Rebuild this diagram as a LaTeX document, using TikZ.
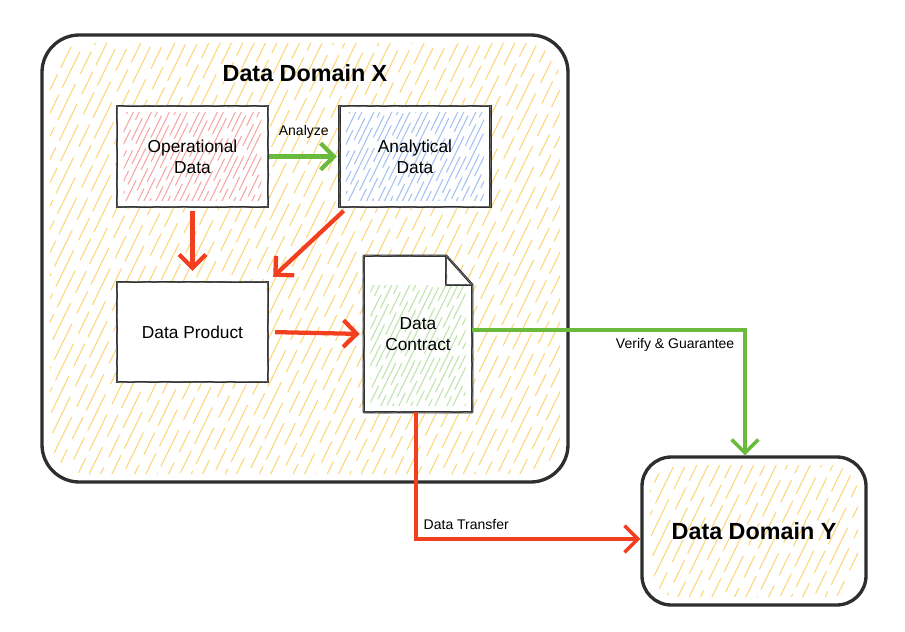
\documentclass[tikz,border=0pt]{standalone}
\usepackage{fontspec}
\setmainfont{Liberation Sans}
\usetikzlibrary{arrows.meta,decorations.pathmorphing}
\definecolor{hatchY}{HTML}{F9D77A}
\definecolor{hatchR}{HTML}{F6A8A8}
\definecolor{hatchB}{HTML}{A6C2F2}
\definecolor{hatchG}{HTML}{BFE3AE}
\definecolor{arrR}{HTML}{F23F1F}
\definecolor{arrG}{HTML}{6CBA3C}
\definecolor{inkc}{HTML}{2E2E2E}
\begin{document}
\begin{tikzpicture}[x=0.75pt,y=-0.75pt,
  hatchfill/.style n args={3}{path picture={
    \begin{scope}
      \clip ([shift={(#2,#2)}]path picture bounding box.south west) rectangle ([shift={(-#2,-#2)}]path picture bounding box.north east);
      \foreach \k in {0,...,95} {
        \pgfmathsetmacro\ph{mod(\k*17,53)}
        \draw[draw=#1, line width=0.8pt, line cap=round, dash pattern=on 30pt off 9pt on 18pt off 6pt, dash phase=\ph pt]
          ([xshift=\k*#3-180pt]path picture bounding box.south west) -- ++(64:420pt);
      }
    \end{scope}}},
  sketch/.style={draw=inkc, line width=1.8pt,
    postaction={draw=inkc!70, line width=0.6pt, decorate, decoration={random steps, segment length=5pt, amplitude=0.5pt}}},
  dombox/.style={draw=inkc, line width=2.5pt},
  box/.style={sketch, fill=white, minimum width=113.25pt, minimum height=75.75pt, inner sep=0pt,
    font=\fontsize{13}{16}\selectfont, align=center, text=black},
  lbl/.style={font=\fontsize{10.5}{12}\selectfont, text=black, inner sep=0pt},
  redarr/.style={draw=arrR, line width=3.2pt, -{Straight Barb[length=10pt,width=20pt]}},
  grnarr/.style={draw=arrG, line width=3.2pt, -{Straight Barb[length=10pt,width=20pt]}},
]
\useasboundingbox (0,0) rectangle (905,631);
\pgfmathsetseed{7}

% Domain X
\node[dombox, minimum width=394.5pt, minimum height=335.25pt, rounded corners=28pt,
      hatchfill={hatchY}{6pt}{8.5pt}] (domX) at (305,258.5) {};
\node[font=\fontsize{17.5}{20}\selectfont\bfseries, text=black] (titleX) at (305,73) {Data Domain X};

% Domain Y
\node[dombox, minimum width=168pt, minimum height=111pt, rounded corners=22pt,
      hatchfill={hatchY}{6pt}{8.5pt}, font=\fontsize{17.5}{20}\selectfont\bfseries, text=black] (domY) at (754,531) {\raisebox{-5pt}{Data Domain Y}};

% Inner boxes
\node[box, hatchfill={hatchR}{5pt}{4.5pt}] (op) at (192.5,156.5) {Operational\\Data};
\node[box, hatchfill={hatchB}{5pt}{4.5pt}] (an) at (415,156.5) {Analytical\\Data};
\node[box, minimum height=75pt] (prod) at (192.5,332) {Data Product};

% Data Contract (document with folded corner)
\path (418,334) node[minimum width=81pt, minimum height=117pt, inner sep=0pt] (contract) {};
\fill[white] (contract.south west) -- (contract.north west) -- ([xshift=-19.5pt]contract.north east)
  -- ([yshift=-21.75pt]contract.north east) -- (contract.south east) -- cycle;
\begin{scope}
  \clip ([shift={(5pt,5pt)}]contract.south west) rectangle ([shift={(-5pt,-22pt)}]contract.north east);
  \foreach \k in {0,...,60} {
    \pgfmathsetmacro\ph{mod(\k*17,53)}
    \draw[draw=hatchG, line width=0.8pt, line cap=round, dash pattern=on 30pt off 9pt on 18pt off 6pt, dash phase=\ph pt]
      ([xshift=\k*4.5pt-120pt]contract.south west) -- ++(64:320pt);
  }
\end{scope}
\draw[sketch, line join=round] (contract.south west) -- (contract.north west) -- ([xshift=-19.5pt]contract.north east)
  -- ([yshift=-21.75pt]contract.north east) -- (contract.south east) -- cycle;
\draw[sketch, line join=round] ([xshift=-19.5pt]contract.north east) |- ([yshift=-21.75pt]contract.north east);
\node[font=\fontsize{13}{16}\selectfont, align=center, text=black] (contractText) at (contract.center) {Data\\Contract};

% Connectors
\draw[grnarr, shorten >=1pt] (op.east) -- node[lbl, above=12pt] (anaLbl) {Analyze} (an.west);
\draw[redarr, shorten <=2pt, shorten >=7.5pt] (op.south) -- (prod.north);
\draw[redarr, shorten >=0pt] ([shift={(4pt,-2pt)}]an.south west) -- ([shift={(3pt,3pt)}]prod.north east);
\draw[redarr, shorten <=4.5pt, shorten >=3pt] (prod.east) -- (contract.west);
\draw[grnarr, line width=2.6pt] ([yshift=3pt]contract.east) -| node[lbl, anchor=north east, xshift=-6.75pt, yshift=-5pt] (verLbl) {Verify \& Guarantee} ([xshift=-6.75pt]domY.north);
\draw[redarr, line width=2.6pt] ([xshift=-1.5pt]contract.south) |- node[lbl, anchor=south west, xshift=4.5pt, yshift=6pt] (trLbl) {Data Transfer} ([yshift=-6pt]domY.west);
\end{tikzpicture}
\end{document}
